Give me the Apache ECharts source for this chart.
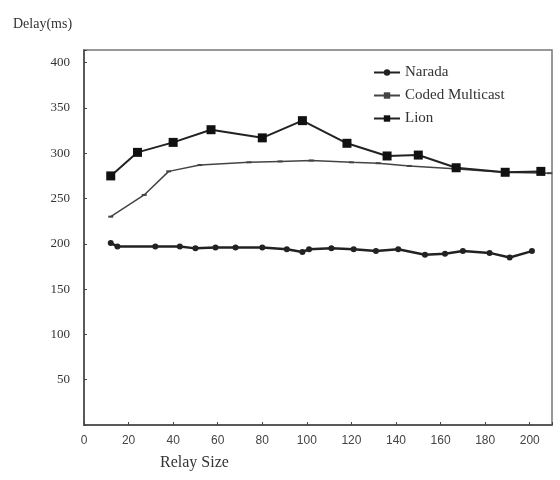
<!DOCTYPE html>
<html>
<head>
<meta charset="utf-8">
<script src="https://cdn.jsdelivr.net/npm/echarts@6/dist/echarts.min.js"></script>
<style>html,body{margin:0;padding:0;background:#fff;}#c{width:560px;height:480px;}</style>
</head>
<body>
<div id="c"></div>
<script>
// Data (x = relay size, y = delay in ms)
const naradaX = [12, 15, 32, 43, 50, 59, 68, 80, 91, 98, 101, 111, 121, 131, 141, 153, 162, 170, 182, 191, 201];
const naradaY = [201, 197, 197, 197, 195, 196, 196, 196, 194, 191, 194, 195, 194, 192, 194, 188, 189, 192, 190, 185, 192];
const codedX = [12, 27, 38, 52, 74, 88, 102, 120, 132, 146, 166, 188, 209];
const codedY = [230, 254, 280, 287, 290, 291, 292, 290, 289, 286, 283, 279, 278];
const lionX = [12, 24, 40, 57, 80, 98, 118, 136, 150, 167, 189, 205];
const lionY = [275, 301, 312, 326, 317, 336, 311, 297, 298, 284, 279, 280];
const xTicks = [0, 20, 40, 60, 80, 100, 120, 140, 160, 180, 200];
const yTicks = [50, 100, 150, 200, 250, 300, 350, 400];
const seriesNames = ['Narada', 'Coded Multicast', 'Lion'];

const zip = (xs, ys) => xs.map((x, i) => [x, ys[i]]);
const chart = echarts.init(document.getElementById('c'), null, {renderer: 'canvas'});
const serif = '"Liberation Serif", "DejaVu Serif", serif';
const sans = '"Liberation Sans", Arial, sans-serif';

chart.setOption({
  animation: false,
  backgroundColor: '#fff',
  title: {
    text: 'Delay(ms)', left: 8, top: 12,
    textStyle: {fontFamily: serif, fontSize: 14, fontWeight: 'normal', color: '#333'}
  },
  graphic: [{
    type: 'text', left: 160, top: 455,
    style: {text: 'Relay Size', font: '16px ' + serif, fill: '#333'}
  }],
  legend: {
    orient: 'vertical', left: 368, top: 60, itemGap: 8,
    itemWidth: 26, itemHeight: 8,
    textStyle: {fontFamily: serif, fontSize: 15, color: '#333'},
    data: seriesNames
  },
  grid: {
    left: 84, right: 8, top: 50, bottom: 55,
    show: true, borderColor: '#777', borderWidth: 1.5
  },
  xAxis: {
    type: 'value', min: 0, max: 210, interval: 20,
    axisLine: {show: true, lineStyle: {color: '#444', width: 1.5}},
    axisTick: {show: true, inside: true, length: 3, lineStyle: {color: '#444'}},
    splitLine: {show: false},
    axisLabel: {
      fontFamily: sans, fontSize: 12, color: '#444', margin: 10,
      formatter: v => (xTicks.indexOf(v) >= 0 ? String(v) : '')
    }
  },
  yAxis: {
    type: 'value', min: 0, max: 414, interval: 50,
    axisLine: {show: true, lineStyle: {color: '#444', width: 1.5}},
    axisTick: {show: true, inside: true, length: 3, lineStyle: {color: '#444'}},
    splitLine: {show: false},
    axisLabel: {
      fontFamily: serif, fontSize: 13, color: '#333', margin: 14,
      formatter: v => (yTicks.indexOf(v) >= 0 ? String(v) : '')
    }
  },
  series: [
    {
      name: 'Narada', type: 'line', data: zip(naradaX, naradaY),
      symbol: 'circle', symbolSize: 6,
      lineStyle: {color: '#222', width: 2.5},
      itemStyle: {color: '#222'}
    },
    {
      name: 'Coded Multicast', type: 'line', data: zip(codedX, codedY),
      symbol: 'rect', symbolSize: [5, 2],
      lineStyle: {color: '#444', width: 1.5},
      itemStyle: {color: '#444'}
    },
    {
      name: 'Lion', type: 'line', data: zip(lionX, lionY),
      symbol: 'rect', symbolSize: 9,
      lineStyle: {color: '#222', width: 2},
      itemStyle: {color: '#111'}
    }
  ]
});
</script>
</body>
</html>
